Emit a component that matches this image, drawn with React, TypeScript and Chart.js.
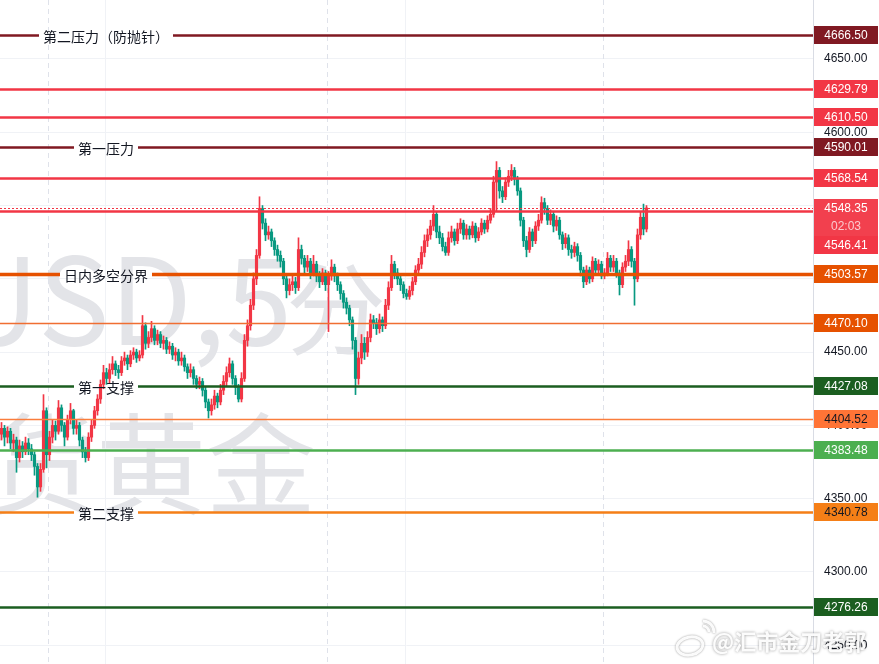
import React, { useEffect, useRef } from 'react';
import { Chart, registerables } from 'chart.js';

Chart.register(...registerables);

// ---------- data ----------
const FIRST_OPEN = 4394;
const CLOSES = [
  4398, 4392, 4396, 4388, 4390, 4378, 4386, 4382, 4388, 4384,
  4380, 4372, 4358, 4370, 4410, 4380, 4392, 4400, 4396, 4412,
  4400, 4392, 4404, 4410, 4398, 4400, 4390, 4382, 4378, 4392,
  4400, 4410, 4418, 4428, 4436, 4432, 4438, 4442, 4438, 4436,
  4444, 4446, 4442, 4448, 4450, 4446, 4448, 4468, 4456, 4460,
  4466, 4458, 4462, 4456, 4458, 4452, 4454, 4448, 4450, 4444,
  4446, 4440, 4436, 4438, 4432, 4428, 4430, 4424, 4416, 4410,
  4414, 4420, 4416, 4424, 4430, 4436, 4442, 4432, 4426, 4418,
  4432, 4458, 4468, 4482, 4500, 4516, 4548, 4538, 4530, 4532,
  4526, 4520, 4516, 4512, 4500, 4492, 4496, 4498, 4494, 4520,
  4514, 4508, 4512, 4504, 4510, 4502, 4498, 4504, 4496, 4502,
  4508, 4502, 4496, 4490, 4484, 4480, 4472, 4458, 4432, 4446,
  4456, 4450, 4460, 4472, 4470, 4466, 4472, 4468, 4482, 4494,
  4510, 4504, 4500, 4496, 4490, 4488, 4492, 4498, 4506, 4510,
  4518, 4526, 4530, 4536, 4544, 4532, 4528, 4522, 4518, 4528,
  4532, 4526, 4534, 4538, 4530, 4534, 4530, 4536, 4528, 4532,
  4538, 4534, 4540, 4544, 4566, 4574, 4560, 4556, 4566, 4570,
  4574, 4568, 4560, 4540, 4526, 4520, 4532, 4526, 4536, 4540,
  4552, 4548, 4540, 4544, 4536, 4540, 4530, 4524, 4528, 4520,
  4518, 4522, 4516, 4506, 4498, 4506, 4500, 4512, 4506, 4510,
  4502, 4504, 4514, 4508, 4512, 4504, 4496, 4508, 4512, 4520,
  4512, 4500, 4530, 4542, 4534, 4548.35,
];
const HIGHS = [
  4402, 4400, 4399, 4398, 4394, 4392, 4390, 4389, 4392, 4391,
  4387, 4382, 4374, 4374, 4421, 4412, 4396, 4404, 4403, 4417,
  4414, 4402, 4407, 4415, 4411, 4404, 4402, 4392, 4385, 4395,
  4404, 4413, 4421, 4431, 4441, 4439, 4442, 4447, 4444, 4441,
  4447, 4450, 4448, 4451, 4453, 4452, 4451, 4475, 4470, 4464,
  4471, 4468, 4465, 4464, 4461, 4460, 4457, 4456, 4453, 4452,
  4450, 4448, 4442, 4442, 4440, 4434, 4433, 4432, 4426, 4418,
  4418, 4424, 4422, 4428, 4434, 4440, 4446, 4444, 4434, 4428,
  4436, 4462, 4472, 4486, 4504, 4520, 4556, 4550, 4541, 4536,
  4534, 4528, 4523, 4519, 4514, 4502, 4500, 4502, 4501, 4528,
  4523, 4516, 4516, 4514, 4516, 4512, 4505, 4507, 4506, 4505,
  4513, 4510, 4504, 4498, 4492, 4487, 4482, 4474, 4460, 4450,
  4462, 4460, 4464, 4476, 4475, 4473, 4476, 4474, 4486, 4498,
  4516, 4512, 4507, 4502, 4498, 4493, 4495, 4501, 4509, 4514,
  4522, 4530, 4534, 4540, 4550, 4546, 4536, 4531, 4525, 4532,
  4536, 4534, 4538, 4541, 4540, 4537, 4536, 4539, 4538, 4535,
  4541, 4540, 4543, 4548, 4570, 4580, 4576, 4563, 4569, 4574,
  4578, 4576, 4570, 4562, 4542, 4529, 4535, 4534, 4539, 4544,
  4556, 4555, 4550, 4547, 4546, 4543, 4542, 4532, 4531, 4530,
  4523, 4525, 4524, 4518, 4508, 4509, 4508, 4515, 4514, 4513,
  4512, 4507, 4518, 4516, 4516, 4514, 4506, 4511, 4516, 4526,
  4522, 4514, 4534, 4546, 4551, 4550,
];
const LOWS = [
  4390, 4386, 4388, 4384, 4382, 4368, 4375, 4378, 4380, 4380,
  4376, 4366, 4351, 4355, 4368, 4371, 4376, 4388, 4390, 4394,
  4396, 4386, 4390, 4401, 4394, 4394, 4386, 4378, 4375, 4376,
  4389, 4398, 4407, 4415, 4425, 4428, 4429, 4435, 4434, 4432,
  4434, 4441, 4438, 4440, 4445, 4443, 4444, 4446, 4452, 4453,
  4457, 4455, 4455, 4453, 4452, 4449, 4449, 4445, 4444, 4441,
  4441, 4437, 4432, 4433, 4428, 4425, 4425, 4420, 4412, 4405,
  4407, 4411, 4412, 4414, 4421, 4427, 4433, 4428, 4421, 4416,
  4416, 4430, 4454, 4465, 4479, 4496, 4514, 4534, 4526, 4527,
  4522, 4516, 4512, 4508, 4496, 4487, 4489, 4492, 4490, 4492,
  4510, 4504, 4505, 4500, 4502, 4498, 4494, 4496, 4492, 4464,
  4499, 4498, 4492, 4486, 4480, 4476, 4468, 4452, 4421, 4428,
  4442, 4445, 4447, 4457, 4466, 4462, 4463, 4464, 4466, 4479,
  4492, 4500, 4496, 4492, 4487, 4486, 4486, 4489, 4496, 4503,
  4507, 4515, 4522, 4527, 4533, 4528, 4524, 4519, 4516, 4516,
  4525, 4523, 4524, 4531, 4527, 4527, 4527, 4528, 4525, 4526,
  4530, 4531, 4532, 4538, 4542, 4546, 4555, 4552, 4554, 4563,
  4567, 4564, 4557, 4536, 4522, 4515, 4518, 4522, 4524, 4533,
  4538, 4544, 4537, 4537, 4532, 4533, 4527, 4520, 4521, 4516,
  4514, 4515, 4512, 4502, 4494, 4496, 4497, 4498, 4503, 4503,
  4500, 4500, 4502, 4505, 4505, 4501, 4489, 4494, 4505, 4509,
  4508, 4482, 4498, 4527, 4530, 4532,
];
const SLOT_COUNT = 271; // candle slots across the pane (right side stays empty)
const Y_TICKS = [4250, 4300, 4350, 4400, 4450, 4500, 4550, 4600, 4650];
const Y_MIN = 4237.2;
const Y_MAX = 4690.25;
const SESSION_BREAKS = [16, 109, 201];
const TIME_GRID = [35, 135];
const LEVEL_PRICES = [4666.5, 4629.79, 4610.5, 4590.01, 4568.54, 4546.41, 4503.57, 4470.1, 4427.08, 4404.52, 4383.48, 4340.78, 4276.26];
const LEVEL_NAMES = ['第二压力（防抛针）', '', '', '第一压力', '', '', '日内多空分界', '', '第一支撑', '', '', '第二支撑', ''];
const COUNTDOWN = '02:03';
const WATERMARK_SYMBOL = 'XAUUSD,5';
const WATERMARK_PERIOD = '分';
const WATERMARK_NAME = '现货黄金';
const SIGNATURE = '@汇市金刀老郭';

// ---------- styles ----------
const UP = '#f23645';
const DOWN = '#089981';
const LEVEL_STYLES = [
  { line: '#801922', width: 2.4, bg: '#801922', fg: '#ffffff' },
  { line: '#f23645', width: 2.4, bg: '#f23645', fg: '#ffffff' },
  { line: '#f23645', width: 2.4, bg: '#f23645', fg: '#ffffff' },
  { line: '#801922', width: 2.4, bg: '#801922', fg: '#ffffff' },
  { line: '#f23645', width: 2.4, bg: '#f23645', fg: '#ffffff' },
  { line: '#f23645', width: 2.4, bg: '#f23645', fg: '#ffffff' },
  { line: '#e65100', width: 3.4, bg: '#e65100', fg: '#ffffff' },
  { line: 'rgb(240,110,50)', width: 1.6, bg: '#e65100', fg: '#ffffff' },
  { line: '#1b5e20', width: 2.4, bg: '#1b5e20', fg: '#ffffff' },
  { line: 'rgb(250,125,60)', width: 1.6, bg: '#ff7436', fg: '#131722' },
  { line: '#4caf50', width: 2.4, bg: '#4caf50', fg: '#ffffff' },
  { line: '#f57f17', width: 2.4, bg: '#f57f17', fg: '#131722' },
  { line: '#1b5e20', width: 2.4, bg: '#1b5e20', fg: '#ffffff' },
];
const AXIS_FONT = '12px "Liberation Sans", Arial, sans-serif';
const CJK = '"Noto Sans CJK SC", "Noto Sans", sans-serif';

const overlay = {
  id: 'overlay',
  beforeDatasetsDraw(chart: any) {
    const { ctx, chartArea: a, scales } = chart;
    const xs = scales.x;
    ctx.save();
    ctx.beginPath();
    ctx.rect(a.left, a.top, a.right - a.left, a.bottom - a.top);
    ctx.clip();
    // symbol watermark
    ctx.fillStyle = '#e3e4e8';
    ctx.textAlign = 'right';
    ctx.textBaseline = 'alphabetic';
    ctx.font = '100px ' + CJK;
    ctx.fillText(WATERMARK_PERIOD, 386, 347);
    ctx.font = '120px ' + CJK;
    ctx.fillText(WATERMARK_SYMBOL, 292, 345);
    ctx.font = '110px ' + CJK;
    ctx.fillText(WATERMARK_NAME, 316, 506);
    // vertical grid
    ctx.lineWidth = 1;
    ctx.strokeStyle = '#f0f2f6';
    TIME_GRID.forEach((i) => {
      const x = Math.round(xs.getPixelForValue(i) - 1.5) + 0.5;
      ctx.beginPath(); ctx.moveTo(x, a.top); ctx.lineTo(x, a.bottom); ctx.stroke();
    });
    ctx.strokeStyle = '#dfe2ea';
    ctx.setLineDash([5, 4]);
    SESSION_BREAKS.forEach((i) => {
      const x = Math.round(xs.getPixelForValue(i) - 1.5) + 0.5;
      ctx.beginPath(); ctx.moveTo(x, a.top); ctx.lineTo(x, a.bottom); ctx.stroke();
    });
    ctx.restore();
  },
  afterDatasetsDraw(chart: any) {
    const { ctx, chartArea: a, scales } = chart;
    const ys = scales.y;
    ctx.save();
    ctx.beginPath();
    ctx.rect(a.left, a.top, a.right - a.left, a.bottom - a.top);
    ctx.clip();
    // current price dotted line
    const last = CLOSES[CLOSES.length - 1];
    const yl = Math.round(ys.getPixelForValue(last)) + 0.5;
    ctx.strokeStyle = UP;
    ctx.lineWidth = 1;
    ctx.setLineDash([2, 2]);
    ctx.beginPath(); ctx.moveTo(a.left, yl); ctx.lineTo(a.right, yl); ctx.stroke();
    ctx.setLineDash([]);
    // levels
    ctx.font = '14px ' + CJK;
    LEVEL_PRICES.forEach((p, k) => {
      const st = LEVEL_STYLES[k];
      const y = Math.round(ys.getPixelForValue(p)) + 0.5;
      ctx.strokeStyle = st.line;
      ctx.lineWidth = st.width;
      const name = LEVEL_NAMES[k];
      if (name) {
        const cx = 106;
        const w = ctx.measureText(name).width;
        const g0 = cx - w / 2 - 4, g1 = cx + w / 2 + 4;
        ctx.beginPath(); ctx.moveTo(a.left, y); ctx.lineTo(g0, y); ctx.moveTo(g1, y); ctx.lineTo(a.right, y); ctx.stroke();
        ctx.fillStyle = '#131722';
        ctx.textAlign = 'center';
        ctx.textBaseline = 'middle';
        ctx.fillText(name, cx, y + 1);
      } else {
        ctx.beginPath(); ctx.moveTo(a.left, y); ctx.lineTo(a.right, y); ctx.stroke();
      }
    });
    ctx.restore();
  },
  afterDraw(chart: any) {
    const { ctx, chartArea: a, scales } = chart;
    const ys = scales.y;
    const left = a.right + 1;
    const width = 64;
    const h = 18;
    ctx.save();
    ctx.font = AXIS_FONT;
    ctx.textAlign = 'center';
    ctx.textBaseline = 'middle';
    type Tag = { y: number; h: number; draw: (top: number) => void };
    const tags: Tag[] = [];
    LEVEL_PRICES.forEach((p, k) => {
      const st = LEVEL_STYLES[k];
      tags.push({
        y: ys.getPixelForValue(p), h,
        draw: (top) => {
          ctx.fillStyle = st.bg; ctx.fillRect(left, top, width, h);
          ctx.fillStyle = st.fg; ctx.fillText(p.toFixed(2), left + width / 2, top + h / 2 + 0.5);
        },
      });
    });
    const last = CLOSES[CLOSES.length - 1];
    tags.push({
      y: ys.getPixelForValue(last) - 0.01, h: h * 2 + 1,
      draw: (top) => {
        ctx.fillStyle = '#f2404e'; ctx.fillRect(left, top, width, h * 2 + 1);
        ctx.fillStyle = '#ffffff'; ctx.fillText(last.toFixed(2), left + width / 2, top + h / 2 + 0.5);
        ctx.fillStyle = 'rgba(255,255,255,0.72)'; ctx.fillText(COUNTDOWN, left + width / 2, top + h + h / 2 + 1);
      },
    });
    tags.sort((t1, t2) => t1.y - t2.y);
    let prevBottom = -1e9;
    tags.forEach((t) => {
      let top = Math.round(t.y - h / 2);
      if (top < prevBottom) top = prevBottom;
      t.draw(top);
      prevBottom = top + t.h;
    });
    // signature watermark
    ctx.textAlign = 'left';
    ctx.textBaseline = 'middle';
    ctx.font = 'bold 22px ' + CJK;
    ctx.shadowColor = 'rgba(0,0,0,0.45)';
    ctx.shadowBlur = 3;
    ctx.fillStyle = 'rgba(255,255,255,0.95)';
    ctx.fillText(SIGNATURE, 712, 642);
    ctx.shadowBlur = 2;
    ctx.strokeStyle = 'rgba(255,255,255,0.95)';
    ctx.lineWidth = 3;
    ctx.beginPath(); ctx.ellipse(690, 646, 13, 9, -0.2, 0, Math.PI * 2); ctx.stroke();
    ctx.beginPath(); ctx.arc(703, 632, 6, -Math.PI / 2, 0); ctx.stroke();
    ctx.beginPath(); ctx.arc(703, 632, 11, -Math.PI / 2, 0.1); ctx.stroke();
    ctx.restore();
  },
};

export default function App() {
  const ref = useRef<HTMLCanvasElement>(null);
  useEffect(() => {
    document.body.style.margin = '0';
    const opens = CLOSES.map((c, i) => (i === 0 ? FIRST_OPEN : CLOSES[i - 1]));
    const colors = CLOSES.map((c, i) => (c >= opens[i] ? UP : DOWN));
    const labels = Array.from({ length: SLOT_COUNT }, (_, i) => String(i));
    const chart = new Chart(ref.current as HTMLCanvasElement, {
      type: 'bar',
      data: {
        labels,
        datasets: [
          {
            label: 'wick',
            data: CLOSES.map((_, i) => [LOWS[i], HIGHS[i]]) as any,
            backgroundColor: colors,
            barThickness: 1,
            grouped: false,
            order: 2,
          } as any,
          {
            label: 'body',
            data: CLOSES.map((c, i) => [opens[i], c]) as any,
            backgroundColor: colors,
            barThickness: 2.5,
            minBarLength: 1,
            grouped: false,
            order: 1,
          } as any,
        ],
      },
      options: {
        responsive: false,
        animation: false,
        devicePixelRatio: 1,
        layout: { padding: 0 },
        plugins: { legend: { display: false }, tooltip: { enabled: false } },
        scales: {
          x: { type: 'category', display: false, offset: true, grid: { display: false } },
          y: {
            type: 'linear',
            position: 'right',
            min: Y_MIN,
            max: Y_MAX,
            afterBuildTicks: (s: any) => { s.ticks = Y_TICKS.map((v) => ({ value: v })); },
            afterFit: (s: any) => { s.width = 66; s.paddingTop = 0; s.paddingBottom = 0; },
            grid: { color: '#f0f2f6', drawTicks: false },
            border: { display: true, color: '#d9dce4' },
            ticks: {
              autoSkip: false,
              padding: 11,
              color: '#131722',
              font: { family: '"Liberation Sans", Arial, sans-serif', size: 12 },
              callback: (v: any) => Number(v).toFixed(2),
            },
          },
        },
      } as any,
      plugins: [overlay],
    });
    return () => chart.destroy();
  }, []);
  return (
    <div style={{ position: 'fixed', left: 0, top: 0, width: 879, height: 664, background: '#ffffff' }}>
      <canvas ref={ref} width={879} height={664} style={{ display: 'block' }} />
    </div>
  );
}
